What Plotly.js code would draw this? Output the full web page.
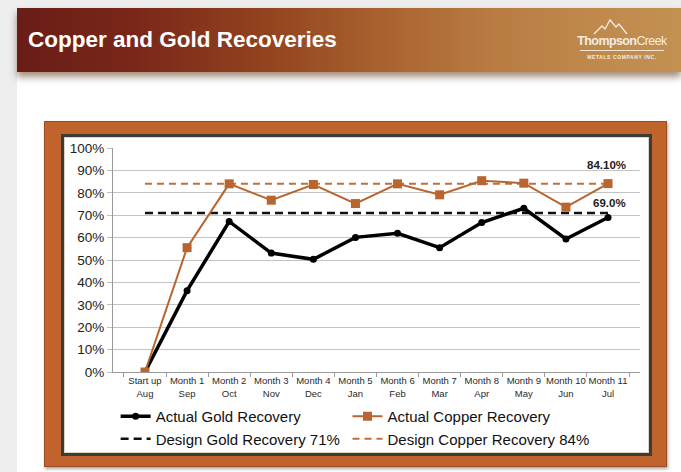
<!DOCTYPE html>
<html>
<head>
<meta charset="utf-8">
<script src="https://cdn.plot.ly/plotly-3.0.1.min.js"></script>
<style>
  html, body { margin:0; padding:0; }
  body { width:681px; height:472px; background:#eeeeee; position:relative; overflow:hidden; font-family:"Liberation Sans", Arial, sans-serif; }
  #page { position:absolute; left:17px; top:8px; width:664px; height:464px; background:#ffffff; }
  #banner { position:absolute; left:17px; top:8px; width:664px; height:64px;
    background:linear-gradient(90deg, #691d16 0%, #7a2719 18%, #93441f 38%, #a9622f 55%, #b97c42 72%, #c08a4d 88%, #c39152 100%);
    box-shadow:0 5px 7px rgba(90,50,20,0.55); }
  #logo { position:absolute; left:572px; top:14px; width:100px; height:52px; color:#f4ece2; text-align:center; }
  #logo .name { position:absolute; left:0; top:20px; width:100px; font-size:12.5px; letter-spacing:-0.6px; }
  #logo .name b { font-weight:bold; }
  #logo .rule { position:absolute; left:8px; top:36px; width:84px; height:1px; background:#efe4d6; }
  #logo .sub { position:absolute; left:0; top:40px; width:100px; font-size:5px; letter-spacing:0.6px; font-weight:bold; }
  #frame { position:absolute; left:44px; top:121px; width:621px; height:344px; background:#c1632c;
    border:1px solid #9c4d22; box-shadow:1px 2px 3px rgba(0,0,0,0.35); }
  #inner { position:absolute; left:61px; top:134px; width:585px; height:316px; background:#ffffff;
    border:3px solid #3d3b33; box-shadow:inset 0 0 0 1px #d8d4c8; }
  #chart { position:absolute; left:0; top:0; width:681px; height:472px; }
</style>
</head>
<body>
<div id="page"></div>
<div id="banner"></div>
<div id="logo">
  <svg width="100" height="22" style="position:absolute;left:0;top:0">
    <polyline points="22,20 30,12 33,15 38,6 44,13 47,10 55,20" fill="none" stroke="#f4ece2" stroke-width="1.3"/>
  </svg>
  <div class="name"><b>Thompson</b>Creek</div>
  <div class="rule"></div>
  <div class="sub">METALS COMPANY INC.</div>
</div>
<div id="frame"></div>
<div id="inner"></div>
<div id="chart"></div>
<script>
// ---- data ----
var periods = ["Start up", "Month 1", "Month 2", "Month 3", "Month 4", "Month 5", "Month 6", "Month 7", "Month 8", "Month 9", "Month 10", "Month 11"];
var monthNames = ["Aug", "Sep", "Oct", "Nov", "Dec", "Jan", "Feb", "Mar", "Apr", "May", "Jun", "Jul"];
var actualGold = [0, 36.3, 67.2, 53.1, 50.3, 60.1, 61.9, 55.5, 66.7, 73.1, 59.4, 69.0];
var actualCopper = [0, 55.5, 84.0, 76.7, 83.7, 75.2, 84.0, 79.1, 85.4, 84.3, 73.6, 84.1];
var designGoldValue = 71;
var designCopperValue = 84;
var labelCopper = "84.10%";
var labelGold = "69.0%";

var categories = periods.map(function (p, i) { return p + "<br>" + monthNames[i]; });
var designGold = periods.map(function () { return designGoldValue; });
var designCopper = periods.map(function () { return designCopperValue; });

var copperColor = "#b8652f";
var fontFam = "Liberation Sans, Arial, sans-serif";

var traces = [
  { x: categories, y: designGold, name: "Design Gold Recovery 71%", type: "scatter", mode: "lines",
    line: { color: "#111111", width: 2.5, dash: "8px,5px" }, legend: "legend", legendrank: 2, hoverinfo: "skip" },
  { x: categories, y: designCopper, name: "Design Copper Recovery 84%", type: "scatter", mode: "lines",
    line: { color: "#c0703a", width: 2, dash: "7px,5px" }, legend: "legend2", legendrank: 2, hoverinfo: "skip" },
  { x: categories, y: actualGold, name: "Actual Gold Recovery", type: "scatter", mode: "lines+markers",
    line: { color: "#000000", width: 3.5 }, marker: { symbol: "circle", size: 7, color: "#000000" },
    legend: "legend", legendrank: 1 },
  { x: categories, y: actualCopper, name: "Actual Copper Recovery", type: "scatter", mode: "lines+markers",
    line: { color: copperColor, width: 2 }, marker: { symbol: "square", size: 9, color: copperColor },
    legend: "legend2", legendrank: 1 }
];

var legendFont = { family: fontFam, size: 15, color: "#111111" };

var layout = {
  width: 681, height: 472,
  margin: { l: 113, r: 41, t: 148, b: 100, pad: 0 },
  paper_bgcolor: "rgba(0,0,0,0)",
  plot_bgcolor: "#ffffff",
  font: { family: fontFam, color: "#222222" },
  title: { text: "Copper and Gold Recoveries", xref: "container", yref: "container",
    x: 28 / 681, xanchor: "left", y: 1 - 39 / 472, yanchor: "middle",
    font: { family: fontFam, size: 22.5, color: "#ffffff", weight: "bold" } },
  showlegend: true,
  legend: { orientation: "v", x: 0.005, xanchor: "left", y: -0.125, yanchor: "top",
    font: legendFont, bgcolor: "rgba(0,0,0,0)", traceorder: "normal" },
  legend2: { orientation: "v", x: 0.445, xanchor: "left", y: -0.125, yanchor: "top",
    font: legendFont, bgcolor: "rgba(0,0,0,0)", traceorder: "normal" },
  xaxis: { type: "category", tickson: "boundaries", ticks: "outside", ticklen: 4, tickcolor: "#9a9a9a",
    tickangle: 0, showline: true, linecolor: "#9a9a9a", linewidth: 1, showgrid: false, zeroline: false,
    tickfont: { family: fontFam, size: 9.5, color: "#2a2a2a" }, fixedrange: true },
  yaxis: { range: [0, 100], dtick: 10, ticksuffix: "%", ticks: "outside", ticklen: 5, tickcolor: "#bdbdbd",
    showline: true, linecolor: "#9a9a9a", linewidth: 1, gridcolor: "#c4c4c4", gridwidth: 1, zeroline: false,
    tickfont: { family: fontFam, size: 13.5, color: "#222222" }, fixedrange: true },
  annotations: [
    { x: categories[categories.length - 1], y: actualCopper[actualCopper.length - 1], xref: "x", yref: "y",
      text: "<b>" + labelCopper + "</b>", showarrow: false, xanchor: "right", yanchor: "middle",
      xshift: 20, yshift: 19, font: { family: fontFam, size: 11.5, color: "#222222" } },
    { x: categories[categories.length - 1], y: actualGold[actualGold.length - 1], xref: "x", yref: "y",
      text: "<b>" + labelGold + "</b>", showarrow: false, xanchor: "right", yanchor: "middle",
      xshift: 20, yshift: 14, font: { family: fontFam, size: 11.5, color: "#222222" } }
  ]
};

Plotly.newPlot("chart", traces, layout, { displayModeBar: false, staticPlot: true });
</script>
</body>
</html>
